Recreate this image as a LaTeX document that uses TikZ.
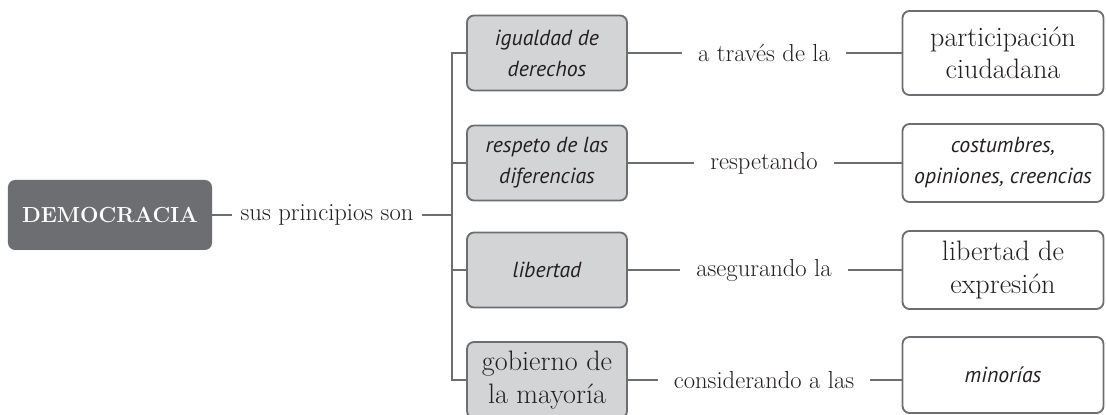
\documentclass[tikz,border=0pt]{standalone}
\usepackage{fontspec}
\usepackage{tikz}
\usetikzlibrary{positioning}
\newfontfamily\sansit{PT Sans}
\definecolor{oscuro}{HTML}{6D6E71}
\definecolor{claro}{HTML}{D3D4D6}
\definecolor{texto}{HTML}{231F20}
\tikzset{
	on grid,
	principal/.style={rectangle, rounded corners=5pt, fill=oscuro, text=white, minimum width=5.1cm, minimum height=1.75cm, font=\fontsize{15.5}{18}\selectfont\bfseries},
	rotulo/.style={text=texto, inner xsep=0.4cm, font=\fontsize{17.5}{21}\selectfont},
	gris/.style={rectangle, rounded corners=5pt, draw=oscuro, line width=1.3pt, fill=claro, text=texto, minimum width=4cm, minimum height=1.875cm, align=center},
	blanco/.style={rectangle, rounded corners=5pt, draw=oscuro, line width=1.3pt, fill=white, text=texto, minimum width=5.025cm, minimum height=1.95cm, align=center},
	cursiva/.style={font=\fontsize{15.5}{22}\selectfont\sansit\itshape}, % textos en sans inclinada
	grande/.style={font=\fontsize{20}{23}\selectfont},
	linea/.style={draw=oscuro, line width=1.6pt},
}
\begin{document}
\begin{tikzpicture}
      \useasboundingbox (0,0) rectangle (27.65,-10.375);

      \node[principal] (dem) at (2.75,-5.375) {DEMOCRACIA};
      \node[rotulo, inner xsep=0.2cm, right=5.425cm of dem] (sus) {sus principios son};
      \coordinate[right=3.125cm of sus] (tr);

      % principios
      \node[gris, cursiva] (g1) at (13.675,-1.325) {igualdad de\\derechos};
      \node[gris, cursiva] (g2) at (13.675,-4.075) {respeto de las\\diferencias};
      \node[gris, cursiva] (g3) at (13.675,-6.75)  {libertad};
      \node[gris, grande, minimum height=1.9cm] (g4) at (13.675,-9.5) {gobierno de\\la mayoría};

      \node[rotulo, right=5.425cm of g1] (m1) {a través de la};
      \node[rotulo, right=5.425cm of g2] (m2) {respetando};
      \node[rotulo, right=5.425cm of g3] (m3) {asegurando la};
      \node[rotulo, right=5.425cm of g4] (m4) {considerando a las};

      \node[blanco, grande, minimum height=2.1cm, right=5.975cm of m1] (b1) {participación\\ciudadana};
      \node[blanco, cursiva, right=5.975cm of m2] (b2) {costumbres,\\opiniones, creencias};
      \node[blanco, grande, right=5.975cm of m3] (b3) {libertad de\\expresión};
      \node[blanco, cursiva, minimum height=1.9cm, right=5.975cm of m4, yshift=0.125cm] (b4) {minorías};

      \draw[linea] (dem) -- (sus);
      \draw[linea] (sus) -- (tr);
      \draw[linea] (g1.west) -- (tr |- g1.west) -- (tr |- g4.west) -- (g4.west);
      \draw[linea] (tr |- g2.west) -- (g2.west) (tr |- g3.west) -- (g3.west);
      \foreach \i in {1,...,4}
        \draw[linea] (g\i) -- (m\i) (m\i.east) -- (m\i.east -| b\i.west);
\end{tikzpicture}
\end{document}
